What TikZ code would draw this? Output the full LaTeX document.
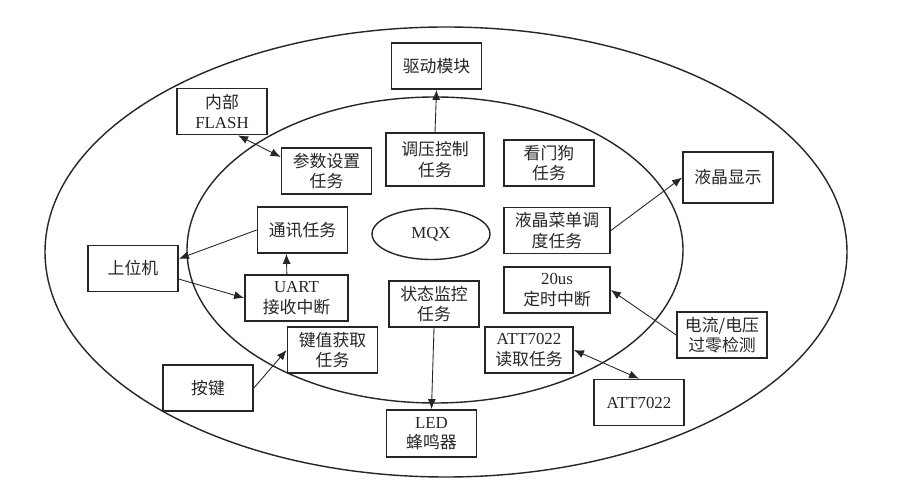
\documentclass[tikz,border=0pt]{standalone}
\usepackage{fontspec}
\setmainfont{Liberation Serif}
\newfontfamily\cjk{Noto Sans CJK SC}
\usetikzlibrary{shapes.geometric,arrows.meta}
\newcommand\lat[1]{{\rmfamily #1}}
\tikzset{
  box/.style={draw, line width=1pt, minimum width=1.8cm, minimum height=0.92cm,
    inner sep=1pt, align=center, font=\cjk\fontsize{9.6}{11.6}\selectfont},
  link/.style={-{Latex[length=2mm,width=1.6mm]}, line width=0.5pt},
  both/.style={{Latex[length=2mm,width=1.6mm]}-{Latex[length=2mm,width=1.6mm]}, line width=0.5pt}
}
\begin{document}
\begin{tikzpicture}[x=0.02cm, y=-0.02cm, black!85]
        \useasboundingbox (0,0) rectangle (903,496);
        \fill[white] (0,0) rectangle (903,496);

        \draw[line width=0.8pt] (446,252) ellipse (401 and 225);
        \draw[line width=0.8pt] (435,250) ellipse (248 and 153);

        \node[box] (drive) at (436.5,66) {驱动模块};
        \node[box] (flash) at (222,111.5) {内部\\\lat{FLASH}};
        \node[box] (param) at (326.5,171) {参数设置\\任务};
        \node[box, minimum width=1.96cm, minimum height=1.06cm] (volt) at (435,159.5) {调压控制\\任务};
        \node[box] (dog) at (549,163) {看门狗\\任务};
        \node[box, minimum height=1.02cm] (lcd) at (728,177.5) {液晶显示};
        \node[box, minimum width=2.12cm] (menu) at (557,230.5) {液晶菜单调\\度任务};
        \node[box, minimum width=2.12cm] (timer) at (557,290) {\lat{20us}\\定时中断};
        \node[box] (zero) at (722,335) {电流/电压\\过零检测};
        \node[box, minimum width=1.76cm] (read) at (529,350) {\lat{ATT7022}\\读取任务};
        \node[box] (att) at (639,402.5) {\lat{ATT7022}};
        \node[box] (comm) at (302.5,230) {通讯任务};
        \node[draw, ellipse, line width=0.8pt, minimum width=2.36cm, minimum height=1.02cm,
          font=\fontsize{9.6}{11.6}\selectfont] (mqx) at (431,234) {MQX};
        \node[box] (host) at (133,268.5) {上位机};
        \node[box, minimum width=2.06cm] (uart) at (296.5,298) {\lat{UART}\\接收中断};
        \node[box] (mon) at (434,304) {状态监控\\任务};
        \node[box] (keyval) at (332.5,350) {键值获取\\任务};
        \node[box] (key) at (208,388) {按键};
        \node[box, minimum height=0.94cm] (led) at (431.5,433.5) {\lat{LED}\\蜂鸣器};

        \draw[link] (volt.north) -- (drive.south);
        \draw[both] (flash.-56) -- (param.163);
        \draw[link] (menu.east) -- (lcd.west);
        \draw[link] (zero.west) -- (timer.east);
        \draw[both] (read.east) -- (att.north);
        \draw[link] (comm.west) -- (host.12);
        \draw[link] (host.-13) -- (uart.west);
        \draw[link] (uart.112) -- (comm.-124);
        \draw[link] (key.east) -- (keyval.west);
        \draw[link] (mon.south) -- (led.north);
      \end{tikzpicture}
\end{document}
